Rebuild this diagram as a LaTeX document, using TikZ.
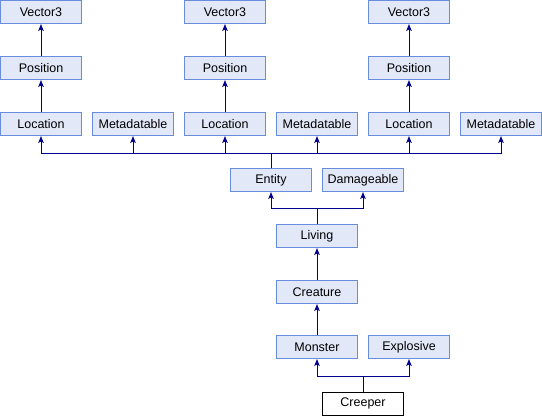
\documentclass[tikz,border=0pt]{standalone}
\usepackage{fontspec}
\setmainfont{Liberation Sans}
\usetikzlibrary{arrows.meta}
\definecolor{boxfill}{RGB}{226,232,248}
\definecolor{boxline}{RGB}{104,140,222}
\definecolor{edge}{RGB}{0,0,140}
\tikzset{
  cls/.style={draw=boxline, fill=boxfill, line width=1pt, minimum width=81pt,
    minimum height=23pt, inner sep=0pt, font=\fontsize{12.5}{14}\selectfont},
  self/.style={cls, draw=black, fill=white},
  inh/.style={draw=edge, line width=1pt, -{Stealth[length=7pt,width=5.5pt,inset=1.5pt]}}
}
\begin{document}
\begin{tikzpicture}[x=1pt, y=-1pt]
\useasboundingbox (0,0) rectangle (542,416);
% top three Location chains
\node[cls] (v1) at (41,12) {Vector3};
\node[cls] (v2) at (225,12) {Vector3};
\node[cls] (v3) at (409,12) {Vector3};
\node[cls] (p1) at (41,68) {Position};
\node[cls] (p2) at (225,68) {Position};
\node[cls] (p3) at (409,68) {Position};
\node[cls] (l1) at (41,124) {Location};
\node[cls] (m1) at (133,124) {Metadatable};
\node[cls] (l2) at (225,124) {Location};
\node[cls] (m2) at (317,124) {Metadatable};
\node[cls] (l3) at (409,124) {Location};
\node[cls] (m3) at (501,124) {Metadatable};
% lower hierarchy
\node[cls] (entity) at (271,180) {Entity};
\node[cls] (damage) at (363,180) {Damageable};
\node[cls] (living) at (317,236) {Living};
\node[cls] (creature) at (317,292) {Creature};
\node[cls] (monster) at (317,347) {Monster};
\node[cls] (explosive) at (409,347) {Explosive};
\node[self] (creeper) at (363,403.5) {Creeper};
% bus lines
\coordinate (busE) at (0,153);
\coordinate (busL) at (0,208);
\coordinate (busC) at (0,376);
% vector chains
\foreach \i in {1,2,3}{
  \draw[inh] (p\i.north) -- (v\i.south);
  \draw[inh] (l\i.north) -- (p\i.south);
}
% Entity parents
\foreach \t in {l1,m1,l2,m2,l3,m3}{
  \draw[inh] (entity.north) -- (entity.north |- busE) -| (\t.south);
}
% Living parents
\foreach \t in {entity,damage}{
  \draw[inh] (living.north) -- (living.north |- busL) -| (\t.south);
}
\draw[inh] (creature.north) -- (living.south);
\draw[inh] (monster.north) -- (creature.south);
% Creeper parents
\foreach \t in {monster,explosive}{
  \draw[inh] (creeper.north) -- (creeper.north |- busC) -| (\t.south);
}
\end{tikzpicture}
\end{document}
